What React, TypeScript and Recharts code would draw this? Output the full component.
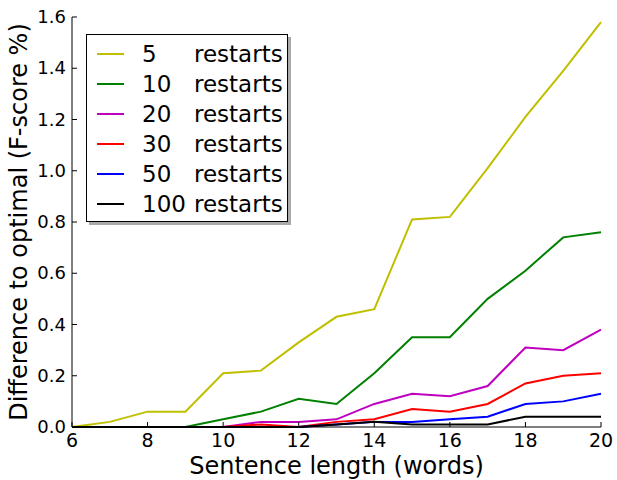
import { Line, LineChart, XAxis, YAxis } from 'recharts';

const lengths = [6, 7, 8, 9, 10, 11, 12, 13, 14, 15, 16, 17, 18, 19, 20];
const r5 = [0, 0.02, 0.06, 0.06, 0.21, 0.22, 0.33, 0.43, 0.46, 0.81, 0.82, 1.01, 1.21, 1.39, 1.58];
const r10 = [0, 0, 0, 0, 0.03, 0.06, 0.11, 0.09, 0.21, 0.35, 0.35, 0.5, 0.61, 0.74, 0.76];
const r20 = [0, 0, 0, 0, 0, 0.02, 0.02, 0.03, 0.09, 0.13, 0.12, 0.16, 0.31, 0.3, 0.38];
const r30 = [0, 0, 0, 0, 0, 0.01, 0, 0.02, 0.03, 0.07, 0.06, 0.09, 0.17, 0.2, 0.21];
const r50 = [0, 0, 0, 0, 0, 0, 0, 0.01, 0.02, 0.02, 0.03, 0.04, 0.09, 0.1, 0.13];
const r100 = [0, 0, 0, 0, 0, 0, 0, 0.01, 0.02, 0.01, 0.01, 0.01, 0.04, 0.04, 0.04];

const xTicks = [6, 8, 10, 12, 14, 16, 18, 20];
const yTicks = [0, 0.2, 0.4, 0.6, 0.8, 1.0, 1.2, 1.4, 1.6];

const series = [
  { key: 'r5', count: '5', color: '#bfbf00', values: r5 },
  { key: 'r10', count: '10', color: '#008000', values: r10 },
  { key: 'r20', count: '20', color: '#bf00bf', values: r20 },
  { key: 'r30', count: '30', color: '#ff0000', values: r30 },
  { key: 'r50', count: '50', color: '#0000ff', values: r50 },
  { key: 'r100', count: '100', color: '#000000', values: r100 },
];

const data = lengths.map((len, i) => {
  const row: Record<string, number> = { len };
  series.forEach((s) => {
    row[s.key] = s.values[i];
  });
  return row;
});

const FONT = '"DejaVu Sans", sans-serif';

function BottomTick({ x, y, payload }: any) {
  return (
    <g>
      <line x1={x} y1={y} x2={x} y2={y - 5} stroke="#000" />
      <text x={x} y={y + 20} textAnchor="middle" fontSize={19} fontFamily={FONT} fill="#000">
        {payload.value}
      </text>
    </g>
  );
}

function TopTick({ x, y }: any) {
  return <line x1={x} y1={y} x2={x} y2={y + 5} stroke="#000" />;
}

function LeftTick({ x, y, payload }: any) {
  return (
    <g>
      <line x1={x} y1={y} x2={x + 5} y2={y} stroke="#000" />
      <text x={x - 6} y={y + 6} textAnchor="end" fontSize={18} fontFamily={FONT} fill="#000">
        {Number(payload.value).toFixed(1)}
      </text>
    </g>
  );
}

function RightTick({ x, y }: any) {
  return <line x1={x} y1={y} x2={x - 5} y2={y} stroke="#000" />;
}

function LegendBox() {
  return (
    <div
      style={{
        position: 'absolute',
        left: 86,
        top: 34,
        width: 202,
        height: 188,
        border: '1px solid #000',
        background: '#fff',
        boxShadow: '3px 3px 0 #aaa',
        boxSizing: 'border-box',
        paddingTop: 4,
        fontFamily: FONT,
        fontSize: 23,
      }}
    >
      {series.map((s) => (
        <div key={s.key} style={{ display: 'flex', alignItems: 'center', height: 30 }}>
          <div style={{ width: 27, height: 2, background: s.color, marginLeft: 10, flexShrink: 0 }} />
          <span style={{ marginLeft: 18, width: 52, flexShrink: 0 }}>{s.count}</span>
          <span>restarts</span>
        </div>
      ))}
    </div>
  );
}

export default function App() {
  return (
    <div style={{ position: 'absolute', left: 0, top: 0, width: 617, height: 480, background: '#fff' }}>
      <LineChart width={617} height={480} data={data} margin={{ top: 17, right: 16, bottom: 0, left: 0 }}>
        <XAxis
          xAxisId="b"
          dataKey="len"
          type="number"
          domain={[6, 20]}
          ticks={xTicks}
          tickSize={0}
          tickMargin={0}
          height={53}
          stroke="#000"
          tick={<BottomTick />}
          label={{ value: 'Sentence length (words)', position: 'insideBottom', offset: 6, fontSize: 24, fontFamily: FONT, fill: '#000' }}
        />
        <XAxis
          xAxisId="t"
          orientation="top"
          dataKey="len"
          type="number"
          domain={[6, 20]}
          ticks={xTicks}
          tickSize={0}
          tickMargin={0}
          height={0}
          stroke="#000"
          tick={<TopTick />}
        />
        <YAxis
          yAxisId="l"
          type="number"
          domain={[0, 1.6]}
          ticks={yTicks}
          tickSize={0}
          tickMargin={0}
          width={72}
          stroke="#000"
          tick={<LeftTick />}
          label={{
            value: 'Difference to optimal (F-score %)',
            angle: -90,
            position: 'insideLeft',
            offset: 18,
            style: { textAnchor: 'middle' },
            fontSize: 24,
            fontFamily: FONT,
            fill: '#000',
          }}
        />
        <YAxis
          yAxisId="r"
          orientation="right"
          type="number"
          domain={[0, 1.6]}
          ticks={yTicks}
          tickSize={0}
          tickMargin={0}
          width={0}
          stroke="#000"
          tick={<RightTick />}
        />
        {series.map((s) => (
          <Line
            key={s.key}
            xAxisId="b"
            yAxisId="l"
            type="linear"
            dataKey={s.key}
            stroke={s.color}
            strokeWidth={2}
            dot={false}
            isAnimationActive={false}
          />
        ))}
      </LineChart>
      <LegendBox />
    </div>
  );
}
